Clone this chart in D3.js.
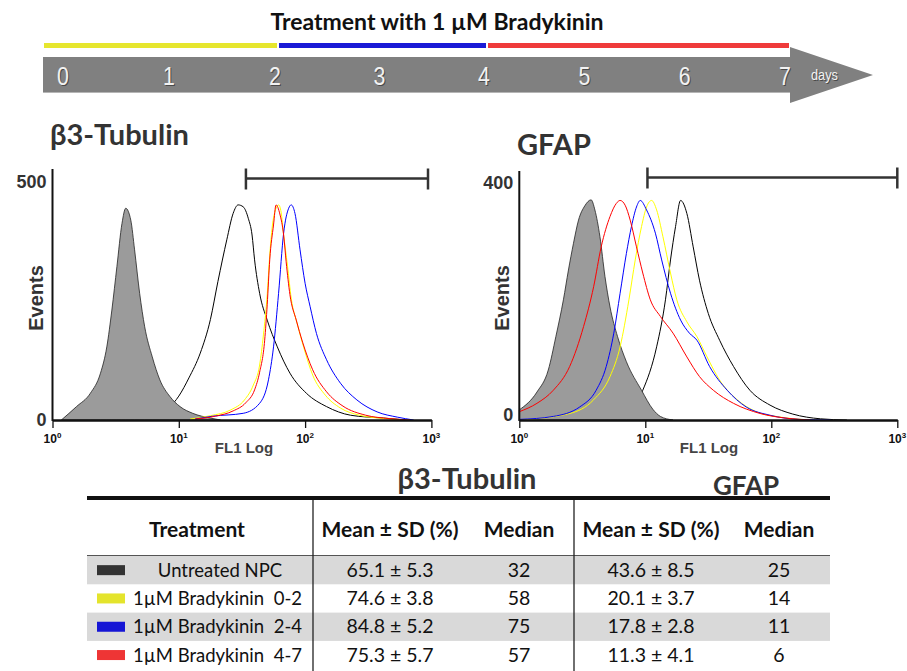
<!DOCTYPE html>
<html>
<head>
<meta charset="utf-8">
<script src="https://cdn.jsdelivr.net/npm/d3@7"></script>
<style>
body { margin: 0; background: #fff; }
svg { display: block; }
</style>
</head>
<body>
<script>
// ---- timeline ----
const days = [0, 1, 2, 3, 4, 5, 6, 7];
const periods = [[0, 2], [2, 4], [4, 7]];

// ---- histograms: [log10 FL1, events] ----
const tubControl = [[0.07,0],[0.19,28],[0.30,56],[0.38,98],[0.43,153],[0.47,230],[0.51,321],[0.55,411],[0.58,443],[0.62,418],[0.65,356],[0.69,265],[0.73,195],[0.79,132],[0.85,84],[0.93,49],[1.01,28],[1.11,14],[1.25,4],[1.33,0]];
const tubUntreated = [[0.61,0],[0.81,8],[0.92,25],[1.00,50],[1.08,88],[1.17,140],[1.25,210],[1.31,290],[1.38,377],[1.43,432],[1.47,450],[1.51,446],[1.55,422],[1.58,387],[1.60,335],[1.64,265],[1.70,209],[1.78,153],[1.88,98],[2.01,56],[2.17,28],[2.36,10],[2.62,4],[2.80,0]];
const tubBK02 = [[1.09,2],[1.25,9],[1.41,21],[1.52,42],[1.59,73],[1.64,115],[1.67,178],[1.70,262],[1.72,345],[1.75,423],[1.79,450],[1.81,435],[1.83,387],[1.86,324],[1.89,255],[1.94,199],[1.99,151],[2.06,94],[2.16,52],[2.28,25],[2.43,10],[2.63,3],[2.79,0]];
const tubBK24 = [[1.13,2],[1.27,8],[1.51,14],[1.64,35],[1.71,84],[1.75,153],[1.79,265],[1.83,391],[1.87,443],[1.89,450],[1.92,432],[1.96,356],[2.00,286],[2.04,237],[2.09,181],[2.17,126],[2.28,77],[2.41,42],[2.57,17],[2.73,6],[2.86,0]];
const tubBK47 = [[1.13,2],[1.29,8],[1.43,19],[1.53,36],[1.60,63],[1.64,100],[1.68,167],[1.70,241],[1.72,335],[1.75,408],[1.77,450],[1.80,431],[1.83,387],[1.85,331],[1.88,262],[1.93,209],[1.98,163],[2.06,105],[2.17,59],[2.30,29],[2.48,10],[2.67,3],[2.83,0]];
const tubGate = [34, 940];

const gfapControl = [[0,17],[0.14,47],[0.23,84],[0.29,140],[0.35,202],[0.39,252],[0.43,297],[0.47,336],[0.52,360],[0.57,370],[0.60,353],[0.64,308],[0.68,241],[0.72,190],[0.78,140],[0.85,98],[0.97,50],[1.06,18],[1.12,6],[1.22,0]];
const gfapUntreated = [[0.32,0],[0.64,3],[0.85,11],[0.98,50],[1.09,123],[1.16,202],[1.20,269],[1.24,325],[1.28,369],[1.33,347],[1.38,291],[1.43,235],[1.50,179],[1.59,134],[1.70,90],[1.83,50],[1.99,25],[2.17,10],[2.39,2],[2.60,0]];
const gfapBK02 = [[0,0],[0.40,11],[0.59,34],[0.72,73],[0.80,123],[0.87,202],[0.92,269],[0.97,325],[1.01,358],[1.05,369],[1.09,353],[1.14,308],[1.20,247],[1.25,202],[1.33,165],[1.41,140],[1.49,106],[1.59,67],[1.73,34],[1.88,14],[2.07,5],[2.31,0]];
const gfapBK24 = [[0,1],[0.27,6],[0.48,22],[0.61,50],[0.69,90],[0.75,146],[0.80,213],[0.85,280],[0.89,325],[0.93,358],[0.96,369],[1.01,353],[1.08,314],[1.13,269],[1.20,213],[1.28,168],[1.35,146],[1.41,134],[1.51,90],[1.65,50],[1.80,22],[1.99,8],[2.23,1],[2.47,0]];
const gfapBK47 = [[0,14],[0.14,28],[0.27,50],[0.40,90],[0.51,157],[0.59,224],[0.65,291],[0.72,342],[0.77,364],[0.80,369],[0.84,361],[0.88,336],[0.93,291],[0.98,247],[1.04,202],[1.12,174],[1.22,146],[1.33,106],[1.43,73],[1.54,50],[1.70,28],[1.91,11],[2.12,3],[2.31,0]];
const gfapGate = [10.4, 1000];

// ---- table ----
const treatments = ['Untreated NPC', '1µM Bradykinin', '1µM Bradykinin', '1µM Bradykinin'];
const treatmentDays = ['', '0-2', '2-4', '4-7'];
const tubMean = [65.1, 74.6, 84.8, 75.3];
const tubSD = [5.3, 3.8, 5.2, 5.7];
const tubMedian = [32, 58, 75, 57];
const gfapMean = [43.6, 20.1, 17.8, 11.3];
const gfapSD = [8.5, 3.7, 2.8, 4.1];
const gfapMedian = [25, 14, 11, 6];

const lineColors = ['#ffff00', '#0000ff', '#ff0000'];
const barColors = ['#e6e62e', '#1a1ad6', '#ef3b3b'];
const swatchColors = ['#333333', '#e4e42c', '#1515d5', '#ee3535'];

const calibri = "Lato, 'Open Sans', sans-serif";
const arial = "'Liberation Sans', Arial, sans-serif";
const narrow = "'Liberation Sans Narrow', 'Liberation Sans', sans-serif";

const svg = d3.select('body').append('svg')
    .attr('width', 907)
    .attr('height', 671);
svg.append('rect').attr('width', 907).attr('height', 671).attr('fill', '#fff');

// ---- timeline arrow ----
svg.append('text')
    .attr('x', 437).attr('y', 30)
    .attr('text-anchor', 'middle')
    .attr('font-family', calibri).attr('font-weight', 'bold').attr('font-size', 23)
    .attr('fill', '#111')
    .text('Treatment with 1 µM Bradykinin');

const barX = d3.scaleLinear().domain([0, 2, 4, 7]).range([43, 278, 487, 790]);
const labelX = d3.scaleLinear().domain([0, 2, 4, 7]).range([63, 275, 484, 785]);

svg.selectAll('.period').data(periods).join('rect')
    .attr('x', d => barX(d[0]) + 1)
    .attr('width', d => barX(d[1]) - barX(d[0]) - 2)
    .attr('y', 43).attr('height', 5)
    .attr('fill', (d, i) => barColors[i]);

svg.append('path')
    .attr('d', 'M43,57 L790,57 L790,47 L873,75 L790,103 L790,93 L43,93 Z')
    .attr('fill', '#808080');
svg.append('line').attr('x1', 43).attr('x2', 790).attr('y1', 92.5).attr('y2', 92.5)
    .attr('stroke', '#b5b5b5').attr('stroke-width', 1);

[['#4a4a4a', 1], ['#f2f2f2', 0]].forEach(([c, off]) => {
  svg.append('g').selectAll('text').data(days).join('text')
      .attr('transform', d => `translate(${labelX(d) + off},${85 + off}) scale(0.82,1)`)
      .attr('text-anchor', 'middle')
      .attr('font-family', narrow)
      .attr('font-size', 26)
      .attr('fill', c)
      .text(d => d);
  svg.append('text')
      .attr('transform', `translate(${811 + off},${80 + off}) scale(0.85,1)`)
      .attr('font-family', narrow)
      .attr('font-size', 15)
      .attr('fill', c)
      .text('days');
});

// ---- histogram panels ----
function panel(o) {
  const x = d3.scaleLog().domain([1, 1000]).range([o.x0, o.x1]);
  const y = d3.scaleLinear().domain([0, o.yMax]).range([420, o.yTop]);
  const g = svg.append('g');

  const line = d3.line()
      .x(d => x(10 ** d[0]))
      .y(d => y(d[1]))
      .curve(d3.curveMonotoneX);
  const area = d3.area()
      .x(d => x(10 ** d[0]))
      .y0(y(0))
      .y1(d => y(d[1]))
      .curve(d3.curveMonotoneX);

  g.append('path').datum(o.untreated)
      .attr('d', line).attr('fill', 'none')
      .attr('stroke', '#000').attr('stroke-width', 1);
  g.append('path').datum(o.control)
      .attr('d', area).attr('fill', '#9b9b9b')
      .attr('stroke', '#222').attr('stroke-width', 0.8);
  o.treated.forEach((s, i) => {
    g.append('path').datum(s)
        .attr('d', line).attr('fill', 'none')
        .attr('stroke', lineColors[i]).attr('stroke-width', 1);
  });

  // x axis
  const majors = [1, 10, 100, 1000];
  const minors = x.ticks().filter(v => !majors.includes(v));
  const ax = g.append('g').attr('transform', 'translate(0,420)');
  ax.call(d3.axisBottom(x).tickValues(minors).tickSize(5).tickSizeOuter(0).tickFormat(''));
  ax.call(d3.axisBottom(x).tickValues(majors).tickSize(8).tickSizeOuter(0).tickFormat(''));
  ax.selectAll('.domain').attr('stroke', '#111').attr('stroke-width', 2.5);
  ax.selectAll('.tick line').attr('stroke', '#111').attr('stroke-width', 1.3);

  majors.forEach((v, i) => {
    const t = g.append('text')
        .attr('x', x(v)).attr('y', 443)
        .attr('text-anchor', 'middle')
        .attr('font-family', arial).attr('font-weight', 'bold').attr('font-size', 12)
        .attr('fill', '#111');
    t.append('tspan').text('10');
    t.append('tspan').attr('dy', -5).attr('font-size', 8).text(i);
  });
  g.append('text')
      .attr('x', o.fl1X).attr('y', 453)
      .attr('text-anchor', 'middle')
      .attr('font-family', arial).attr('font-weight', 'bold').attr('font-size', 15)
      .attr('fill', '#444')
      .text('FL1 Log');

  // y axis
  g.append('line')
      .attr('x1', o.x0).attr('x2', o.x0)
      .attr('y1', o.axisTop).attr('y2', 421)
      .attr('stroke', '#111').attr('stroke-width', 2);
  [[o.yMax, y(o.yMax) + 7], [0, o.zeroY]].forEach(([v, py]) => {
    g.append('text')
        .attr('x', o.x0 - 6).attr('y', py)
        .attr('text-anchor', 'end')
        .attr('font-family', arial).attr('font-weight', 'bold').attr('font-size', 18)
        .attr('fill', '#333')
        .text(v);
  });
  g.append('text')
      .attr('transform', `translate(${o.x0 - 10},298) rotate(-90)`)
      .attr('text-anchor', 'middle')
      .attr('font-family', arial).attr('font-weight', 'bold').attr('font-size', 20)
      .attr('fill', '#333')
      .text('Events');

  // gate marker
  const gx0 = x(o.gate[0]), gx1 = x(o.gate[1]);
  g.append('line').attr('x1', gx0).attr('x2', gx1).attr('y1', o.gateY).attr('y2', o.gateY)
      .attr('stroke', '#333').attr('stroke-width', 2.5);
  [gx0, gx1].forEach(px => {
    g.append('line').attr('x1', px).attr('x2', px)
        .attr('y1', o.gateY - 10).attr('y2', o.gateY + 11)
        .attr('stroke', '#333').attr('stroke-width', 2.5);
  });

  // title
  g.append('text')
      .attr('x', o.titleX).attr('y', o.titleY)
      .attr('font-family', calibri).attr('font-weight', 'bold').attr('font-size', 29)
      .attr('fill', '#333')
      .text(o.title);
}

panel({
  title: 'β3-Tubulin', titleX: 50, titleY: 145,
  x0: 52.5, x1: 431.4, yMax: 500, yTop: 181, axisTop: 169, zeroY: 426,
  fl1X: 244, gate: tubGate, gateY: 178.5,
  control: tubControl, untreated: tubUntreated, treated: [tubBK02, tubBK24, tubBK47]
});
panel({
  title: 'GFAP', titleX: 517, titleY: 155,
  x0: 519.3, x1: 897.3, yMax: 400, yTop: 182, axisTop: 171, zeroY: 421,
  fl1X: 709, gate: gfapGate, gateY: 177.5,
  control: gfapControl, untreated: gfapUntreated, treated: [gfapBK02, gfapBK24, gfapBK47]
});

// ---- table ----
const tLeft = 87, tRight = 830;
const rowTop = 556, rowH = 28.3;
const colX = [0, 390, 519, 651, 779];
const tbl = svg.append('g').attr('font-family', calibri).attr('fill', '#111');

tbl.append('text').attr('x', 467).attr('y', 489).attr('text-anchor', 'middle')
    .attr('font-weight', 'bold').attr('font-size', 29).attr('fill', '#333').text('β3-Tubulin');
tbl.append('text').attr('x', 746).attr('y', 495).attr('text-anchor', 'middle')
    .attr('font-weight', 'bold').attr('font-size', 26).attr('fill', '#333').text('GFAP');

const rows = treatments.map((t, i) => ({
  t, days: treatmentDays[i],
  cells: [
    `${tubMean[i].toFixed(1)} ± ${tubSD[i].toFixed(1)}`,
    String(tubMedian[i]),
    `${gfapMean[i].toFixed(1)} ± ${gfapSD[i].toFixed(1)}`,
    String(gfapMedian[i])
  ]
}));

const rowG = tbl.selectAll('.row').data(rows).join('g')
    .attr('transform', (d, i) => `translate(0,${rowTop + i * rowH})`);
rowG.filter((d, i) => i % 2 === 0).append('rect')
    .attr('x', tLeft).attr('width', tRight - tLeft)
    .attr('height', rowH).attr('fill', '#d9d9d9');
rowG.append('rect')
    .attr('x', 97).attr('y', rowH / 2 - 5).attr('width', 28).attr('height', 10)
    .attr('fill', (d, i) => swatchColors[i]);
rowG.append('text')
    .attr('x', d => d.days ? 133 : 220)
    .attr('y', rowH / 2 + 6.5)
    .attr('text-anchor', d => d.days ? 'start' : 'middle')
    .attr('font-size', 18.5)
    .text(d => d.t);
rowG.append('text')
    .attr('x', 302).attr('y', rowH / 2 + 6.5)
    .attr('text-anchor', 'end')
    .attr('font-size', 18.5)
    .text(d => d.days);
rowG.each(function(d) {
  d3.select(this).selectAll('.cell').data(d.cells).join('text')
      .attr('x', (c, j) => colX[j + 1])
      .attr('y', rowH / 2 + 6.5)
      .attr('text-anchor', 'middle')
      .attr('font-size', 19.5)
      .text(c => c);
});

const headers = ['Treatment', 'Mean ± SD (%)', 'Median', 'Mean ± SD (%)', 'Median'];
const headX = [197, 390, 519, 651, 779];
tbl.selectAll('.head').data(headers).join('text')
    .attr('x', (d, i) => headX[i]).attr('y', 537)
    .attr('text-anchor', 'middle')
    .attr('font-weight', 'bold').attr('font-size', 21)
    .text(d => d);

tbl.append('line').attr('x1', tLeft).attr('x2', tRight).attr('y1', 498).attr('y2', 498)
    .attr('stroke', '#111').attr('stroke-width', 4);
tbl.append('line').attr('x1', tLeft).attr('x2', tRight).attr('y1', 555.5).attr('y2', 555.5)
    .attr('stroke', '#555').attr('stroke-width', 1);
[313, 574].forEach(px => {
  tbl.append('line').attr('x1', px).attr('x2', px).attr('y1', 500).attr('y2', 671)
      .attr('stroke', '#222').attr('stroke-width', 1.3);
});
</script>
</body>
</html>
